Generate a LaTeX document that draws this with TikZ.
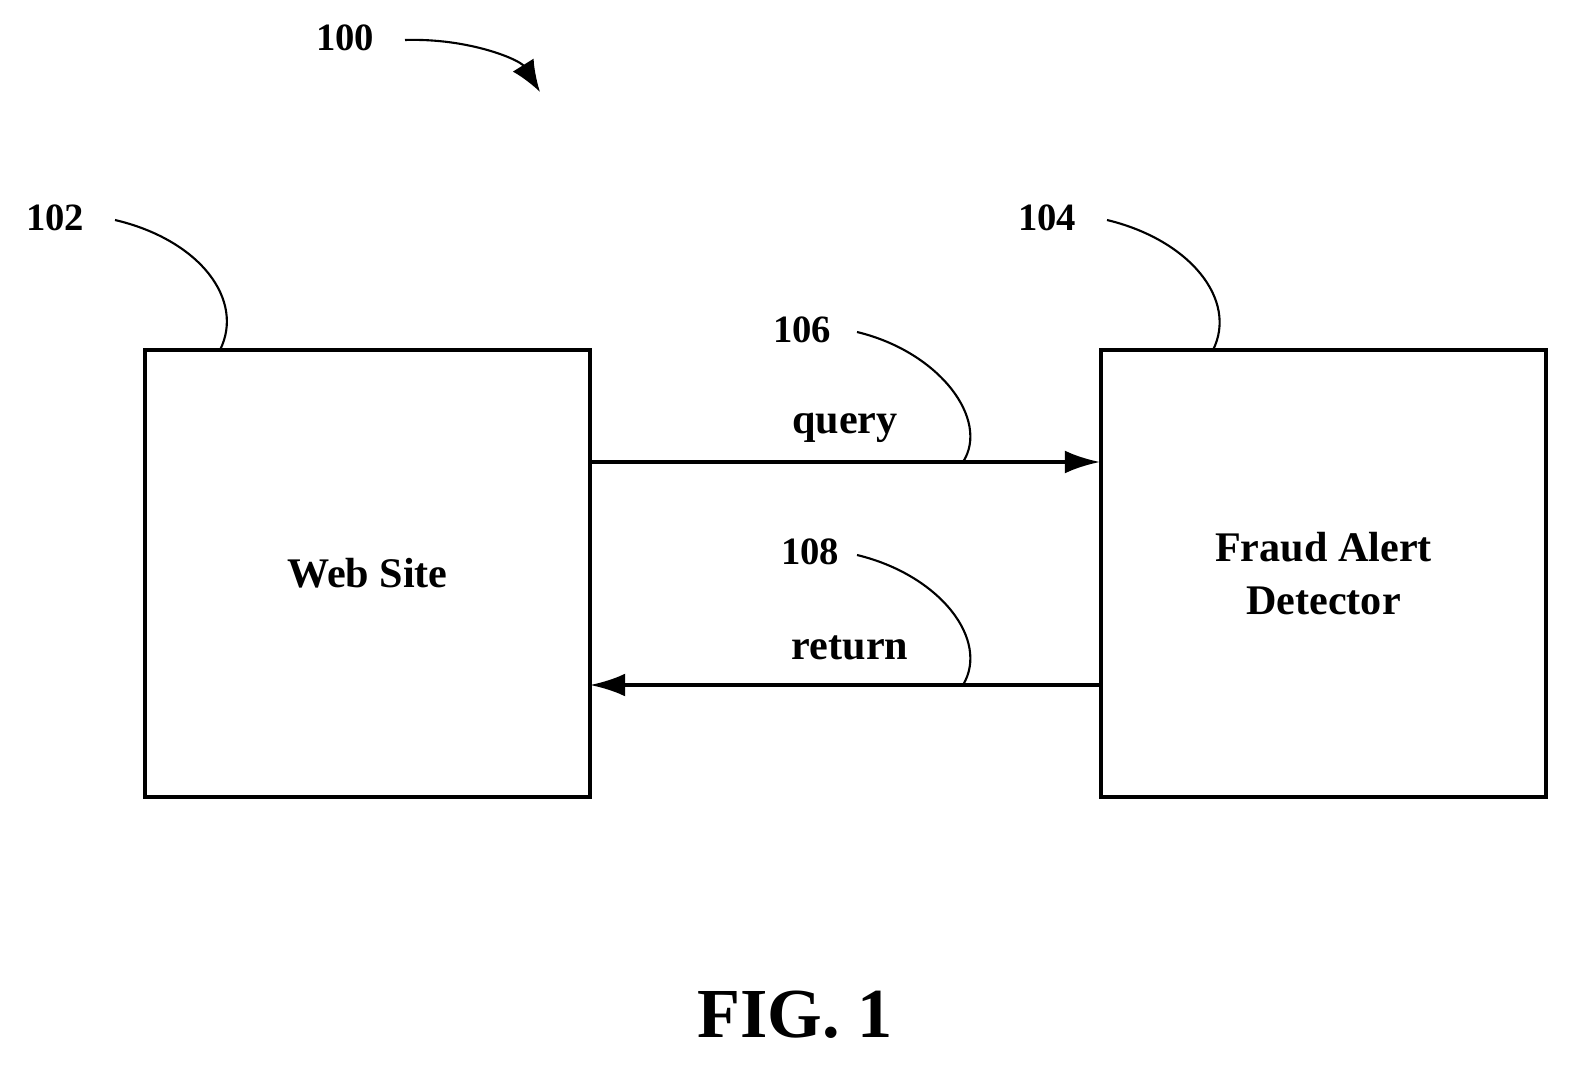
\documentclass[tikz,border=0pt]{standalone}
\usepackage{fontspec}
\setmainfont{Liberation Serif}
\usetikzlibrary{arrows.meta}

\begin{document}
\begin{tikzpicture}[x=0.02cm, y=-0.02cm,
    every node/.style={font=\bfseries\fontsize{24}{30}\selectfont},
    block/.style={draw, line width=2pt, minimum width=8.9cm, minimum height=8.94cm, align=center},
    ref/.style={font=\bfseries\fontsize{22}{26}\selectfont},
    lead/.style={line width=1.2pt},
    flow/.style={line width=2pt, -{Latex[length=20pt,width=13pt]}}]

\useasboundingbox (0,0) rectangle (1584,1070);

\node[block] (web) at (367.5,573.5) {Web Site};
\node[block] (fad) at (1323.5,573.5) {Fraud Alert\\Detector};

\coordinate (qs) at (590,462);
\coordinate (qe) at (1100,462);
\coordinate (rs) at (1100,685);
\coordinate (re) at (590,685);
\draw[flow] (qs) -- (qe);
\draw[flow] (rs) -- (re);
\node (query) at (845,428) {query};
\node (return) at (850,648) {return};

% reference numerals
\node[ref] (n100) at (345,38) {100};
\node[ref] (n102) at (55,218) {102};
\node[ref] (n104) at (1047,218) {104};
\node[ref] (n106) at (802,330) {106};
\node[ref] (n108) at (810,552) {108};

\coordinate (c100) at (540,92);
\coordinate (c102) at (220,350);
\coordinate (c104) at (1213,350);
\coordinate (c106) at (963,462);
\coordinate (c108) at (963,685);

\draw[lead, -{Latex[length=18pt,width=14pt]}] (405,40) .. controls (470,38) and (520,60) .. (c100);
\draw[lead] (115,220) .. controls (200,240) and (245,300) .. (c102);
\draw[lead] (1107,220) .. controls (1190,240) and (1238,300) .. (c104);
\draw[lead] (857,332) .. controls (940,352) and (990,420) .. (c106);
\draw[lead] (857,555) .. controls (940,575) and (990,640) .. (c108);

\node[font=\bfseries\fontsize{40}{44}\selectfont] (fig) at (795,1015) {FIG. 1};
\end{tikzpicture}
\end{document}
